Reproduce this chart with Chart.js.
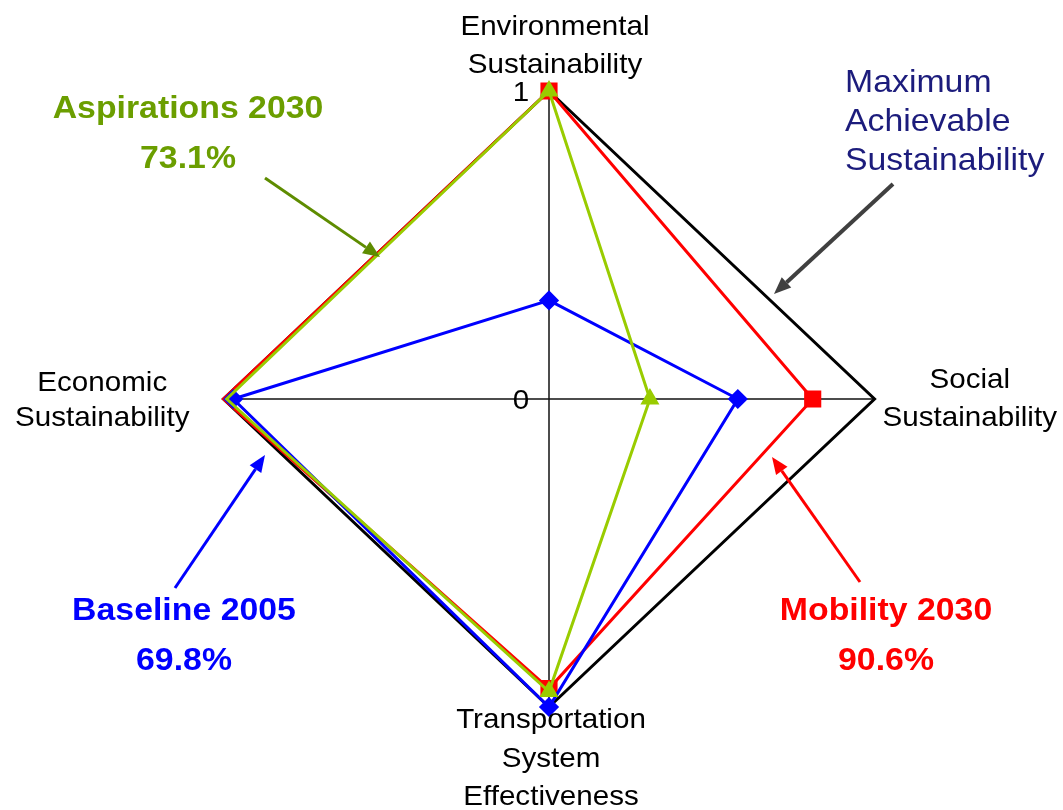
<!DOCTYPE html>
<html>
<head>
<meta charset="utf-8">
<script src="https://cdn.jsdelivr.net/npm/chart.js@4.4.1/dist/chart.umd.min.js"></script>
<style>
    html, body { margin: 0; padding: 0; background: #fff; }
</style>
</head>
<body>
<canvas id="graficoRadar" width="1063" height="810"></canvas>
<script>
// eixos do radar (sentido horario, comecando no topo)
var eixos = [
    ['Environmental', 'Sustainability'],
    ['Social', 'Sustainability'],
    ['Transportation', 'System', 'Effectiveness'],
    ['Economic', 'Sustainability']
];

var maximo = [1, 1, 1, 1];
var mobilidade2030 = [1, 0.81, 0.94, 1];
var base2005 = [0.32, 0.58, 1, 0.97];
var aspiracoes2030 = [1, 0.31, 0.95, 0.99];

var marcasEscala = [0, 1];

var nomesSeries = ['Aspirations 2030', 'Baseline 2005', 'Mobility 2030', 'Maximum Achievable Sustainability'];
var percentuais = ['73.1%', '69.8%', '90.6%'];

// o original e um pouco mais largo que alto
var esticarX = 1.057;
var fonte = '"Liberation Sans", Arial, sans-serif';

// posicao dos nomes dos eixos em relacao ao vertice
var posEixos = [
    { dx: 6, dy: -56, lado: 'centro', espaco: 37.5 },
    { dx: 8, dy: -11, lado: 'direita', espaco: 38 },
    { dx: 2, dy: 21, lado: 'centro', espaco: 38.5 },
    { dx: -34, dy: -8, lado: 'esquerda', espaco: 35 }
];

var anotacoes = [
    { linhas: [nomesSeries[0], percentuais[0]], cor: '#6B9E00', x: 188, y: 118, negrito: true, alinh: 'center', espaco: 50,
      seta: [265, 178, 380, 257], corSeta: '#5E8C00', largura: 3 },
    { linhas: ['Maximum', 'Achievable', 'Sustainability'], cor: '#1C1C7C', x: 845, y: 92, negrito: false, alinh: 'left', espaco: 39,
      seta: [893, 184, 774, 294], corSeta: '#404040', largura: 4 },
    { linhas: [nomesSeries[1], percentuais[1]], cor: '#0000FF', x: 184, y: 620, negrito: true, alinh: 'center', espaco: 50,
      seta: [175, 588, 265, 455], corSeta: '#0000FF', largura: 3 },
    { linhas: [nomesSeries[2], percentuais[2]], cor: '#FF0000', x: 886, y: 620, negrito: true, alinh: 'center', espaco: 50,
      seta: [860, 582, 772, 457], corSeta: '#FF0000', largura: 3 }
];

function TextoEsticado(ctx, texto, x, y, alinh) {
    ctx.save();
    ctx.translate(x, y);
    ctx.scale(esticarX, 1);
    ctx.textAlign = alinh;
    ctx.fillText(texto, 0, 0);
    ctx.restore();
}

function DesenharSeta(ctx, s, cor, largura) {
    var x0 = s[0], y0 = s[1], x1 = s[2], y1 = s[3];
    var ang = Math.atan2(y1 - y0, x1 - x0);
    var comp = 17, meia = 7;
    var bx = x1 - Math.cos(ang) * comp;
    var by = y1 - Math.sin(ang) * comp;

    ctx.save();
    ctx.strokeStyle = cor;
    ctx.fillStyle = cor;
    ctx.lineWidth = largura;
    ctx.beginPath();
    ctx.moveTo(x0, y0);
    ctx.lineTo(bx, by);
    ctx.stroke();
    ctx.beginPath();
    ctx.moveTo(x1, y1);
    ctx.lineTo(bx + Math.sin(ang) * meia, by - Math.cos(ang) * meia);
    ctx.lineTo(bx - Math.sin(ang) * meia, by + Math.cos(ang) * meia);
    ctx.closePath();
    ctx.fill();
    ctx.restore();
}

var pluginDesenho = {
    id: 'desenho',
    afterLayout: function (chart) {
        var escala = chart.scales.r;
        var original = Object.getPrototypeOf(escala).getPointPosition;
        escala.getPointPosition = function (indice, distancia, angulo) {
            var p = original.call(this, indice, distancia, angulo);
            return { x: this.xCenter + (p.x - this.xCenter) * esticarX, y: p.y, angle: p.angle };
        };
    },
    afterDraw: function (chart) {
        var ctx = chart.ctx;
        var escala = chart.scales.r;

        ctx.save();
        ctx.textBaseline = 'alphabetic';

        // nomes dos eixos
        ctx.fillStyle = '#000';
        ctx.font = '28px ' + fonte;
        eixos.forEach(function (linhas, i) {
            var v = escala.getPointPosition(i, escala.drawingArea);
            var pos = posEixos[i];
            var larg = 0;
            linhas.forEach(function (l) { larg = Math.max(larg, ctx.measureText(l).width * esticarX); });
            var cx = v.x + pos.dx;
            if (pos.lado === 'direita') cx = v.x + pos.dx + larg / 2;
            if (pos.lado === 'esquerda') cx = v.x + pos.dx - larg / 2;
            linhas.forEach(function (l, k) {
                TextoEsticado(ctx, l, cx, v.y + pos.dy + k * pos.espaco, 'center');
            });
        });

        // marcas da escala (0 e 1)
        marcasEscala.forEach(function (m) {
            var p = escala.getPointPosition(0, escala.getDistanceFromCenterForValue(m));
            TextoEsticado(ctx, String(m), escala.xCenter - 28, p.y + 10, 'center');
        });

        // rotulos com setas
        anotacoes.forEach(function (a) {
            ctx.fillStyle = a.cor;
            ctx.font = (a.negrito ? 'bold 32px ' : '32px ') + fonte;
            a.linhas.forEach(function (l, k) {
                TextoEsticado(ctx, l, a.x, a.y + k * a.espaco, a.alinh);
            });
            DesenharSeta(ctx, a.seta, a.corSeta, a.largura);
        });

        ctx.restore();
    }
};

var ctx = document.getElementById('graficoRadar').getContext('2d');

var grafico = new Chart(ctx, {
    type: 'radar',
    data: {
        labels: eixos,
        datasets: [
            {
                label: nomesSeries[0],
                data: aspiracoes2030,
                borderColor: '#99CC00',
                backgroundColor: '#99CC00',
                pointBackgroundColor: '#99CC00',
                pointBorderColor: '#99CC00',
                pointStyle: 'triangle',
                pointRadius: 8,
                borderWidth: 3,
                fill: false
            },
            {
                label: nomesSeries[1],
                data: base2005,
                borderColor: '#0000FF',
                backgroundColor: '#0000FF',
                pointBackgroundColor: '#0000FF',
                pointBorderColor: '#0000FF',
                pointStyle: 'rectRot',
                pointRadius: 8,
                borderWidth: 3,
                fill: false
            },
            {
                label: nomesSeries[2],
                data: mobilidade2030,
                borderColor: '#FF0000',
                backgroundColor: '#FF0000',
                pointBackgroundColor: '#FF0000',
                pointBorderColor: '#FF0000',
                pointStyle: 'rect',
                pointRadius: 10,
                borderWidth: 3,
                fill: false
            },
            {
                label: nomesSeries[3],
                data: maximo,
                borderColor: '#000000',
                pointRadius: 0,
                borderWidth: 3,
                fill: false
            }
        ]
    },
    options: {
        responsive: false,
        animation: false,
        layout: {
            padding: { left: 241, right: 206, top: 91, bottom: 103 }
        },
        elements: {
            line: { tension: 0 }
        },
        scales: {
            r: {
                min: 0,
                max: 1,
                ticks: { display: false },
                grid: { display: false },
                angleLines: { display: true, color: '#111111', lineWidth: 1.5 },
                pointLabels: { display: false }
            }
        },
        plugins: {
            legend: { display: false },
            tooltip: { enabled: false }
        }
    },
    plugins: [pluginDesenho]
});
</script>
</body>
</html>
